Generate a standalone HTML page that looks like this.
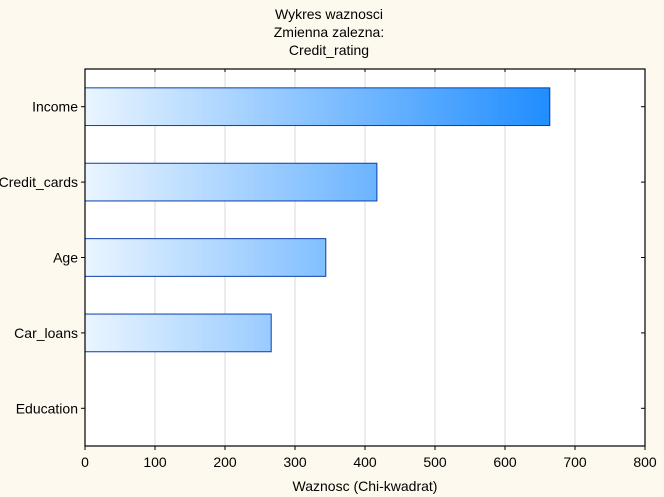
<!DOCTYPE html>
<html><head><meta charset="utf-8"><style>
body{margin:0;background:#FEF9EE;}
svg{display:block;font-family:"Liberation Sans",Arial,sans-serif;}
</style></head><body>
<svg width="664" height="497">
<defs>
<linearGradient id="g" gradientUnits="userSpaceOnUse" x1="85" y1="0" x2="555" y2="0">
<stop offset="0" stop-color="#EAF5FF"/><stop offset="1" stop-color="#1E8CFF"/>
</linearGradient>
</defs>
<rect x="0" y="0" width="664" height="497" fill="#FEF9EE"/>
<text x="329" y="19" font-size="14" text-anchor="middle">Wykres waznosci</text>
<text x="329" y="37" font-size="14" text-anchor="middle">Zmienna zalezna:</text>
<text x="329" y="55" font-size="14" text-anchor="middle">Credit_rating</text>
<rect x="85" y="69" width="560" height="377" fill="#fff"/>
<g id="grid"></g>
<g id="bars"></g>
<rect x="85" y="69" width="560" height="377" fill="none" stroke="#000" stroke-width="1.2"/>
<g id="axes"></g>
<text x="365" y="491" font-size="14" text-anchor="middle">Waznosc (Chi-kwadrat)</text>
</svg>
<script>
const categories=["Income","Credit_cards","Age","Car_loans","Education"];
const values=[664,417,344,266,0];
const ticks=[0,100,200,300,400,500,600,700,800];
const X0=85,X1=645,Y0=69,Y1=446,XMAX=800;
const xs=v=>X0+(X1-X0)*v/XMAX;
const band=(Y1-Y0)/categories.length;
const yc=i=>Y0+band*(i+0.5);
const NS="http://www.w3.org/2000/svg";
function mk(t,a,p){const e=document.createElementNS(NS,t);for(const k in a)e.setAttribute(k,a[k]);p.appendChild(e);return e;}
const grid=document.getElementById('grid'),bars=document.getElementById('bars'),axes=document.getElementById('axes');
ticks.forEach(t=>{const x=xs(t);
 if(t>0&&t<XMAX){const l=mk('line',{x1:x,x2:x,y1:Y0,y2:Y1,stroke:'#d8d8d8'},grid);
 
 }
 const tk=mk('line',{x1:x,x2:x,y1:Y1,y2:Y1+4,stroke:'#000'},axes);
 
 
 mk('line',{x1:x,x2:x,y1:Y0,y2:Y0+3,stroke:'#000'},axes);
 const tx=mk('text',{x:x,y:467,'font-size':14,'text-anchor':'middle'},axes);tx.textContent=t;
 
 
});
categories.forEach((c,i)=>{const y=yc(i);
 if(values[i]>0){const r=mk('rect',{x:X0,y:y-band/4,width:xs(values[i])-X0,height:band/2,fill:'url(#g)',stroke:'#0A3FA8','stroke-width':1},bars);
 
 }
 const tk=mk('line',{x1:X0-4,x2:X0,y1:y,y2:y,stroke:'#000'},axes);
 
 
 mk('line',{x1:X1-4,x2:X1,y1:y,y2:y,stroke:'#000'},axes);
 const tx=mk('text',{x:78,y:y+5,'font-size':14,'text-anchor':'end'},axes);tx.textContent=c;
 
 
});
</script>
</body></html>
